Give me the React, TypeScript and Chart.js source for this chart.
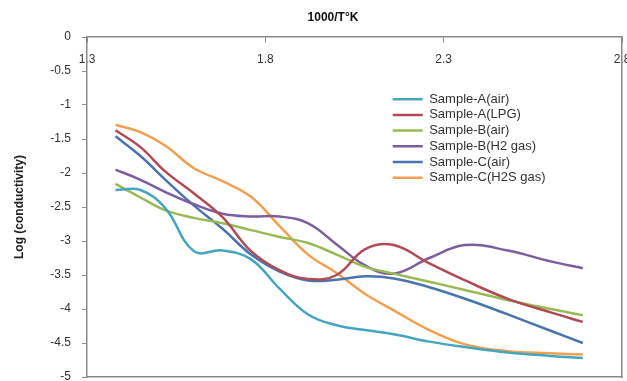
import React, { useEffect, useRef } from 'react';
import { Chart, registerables } from 'chart.js';

Chart.register(...registerables);

// Shared x positions (1000/T in K^-1)
const X_VALUES = [1.38, 1.45, 1.52, 1.6, 1.68, 1.76, 1.84, 1.92, 2.0, 2.08, 2.16, 2.26, 2.36, 2.48, 2.6, 2.69];

const SAMPLE_A_AIR = [-2.25, -2.25, -2.52, -3.15, -3.14, -3.27, -3.7, -4.08, -4.24, -4.31, -4.37, -4.48, -4.56, -4.64, -4.69, -4.72];
const SAMPLE_A_LPG = [-1.37, -1.62, -1.98, -2.3, -2.65, -3.15, -3.43, -3.56, -3.5, -3.12, -3.06, -3.33, -3.58, -3.85, -4.05, -4.19];
const SAMPLE_B_AIR = [-2.16, -2.36, -2.55, -2.66, -2.74, -2.84, -2.94, -3.03, -3.2, -3.38, -3.48, -3.6, -3.72, -3.87, -4.0, -4.09];
const SAMPLE_B_H2 = [-1.95, -2.1, -2.28, -2.46, -2.6, -2.64, -2.64, -2.74, -3.05, -3.36, -3.48, -3.25, -3.06, -3.14, -3.3, -3.4];
const SAMPLE_C_AIR = [-1.46, -1.75, -2.1, -2.48, -2.82, -3.2, -3.45, -3.58, -3.57, -3.52, -3.55, -3.68, -3.85, -4.08, -4.32, -4.5];
const SAMPLE_C_H2S = [-1.29, -1.4, -1.6, -1.93, -2.12, -2.35, -2.78, -3.2, -3.47, -3.78, -4.02, -4.31, -4.52, -4.62, -4.65, -4.67];

const SERIES_NAMES = ['Sample-A(air)', 'Sample-A(LPG)', 'Sample-B(air)', 'Sample-B(H2 gas)', 'Sample-C(air)', 'Sample-C(H2S gas)'];
const SERIES_COLORS = ['#45A5BF', '#B04A55', '#98B954', '#7B5E9E', '#4A74AE', '#F0A050'];

const X_TICKS = [1.3, 1.8, 2.3, 2.8];
const X_TITLE = '1000/T°K';
const Y_TITLE = 'Log (conductivity)';

const AXIS_COLOR = '#8a8a8a';
const FONT = '"Liberation Sans", Arial, sans-serif';

export default function App() {
  const canvasRef = useRef<HTMLCanvasElement>(null);

  useEffect(() => {
    const series = [SAMPLE_A_AIR, SAMPLE_A_LPG, SAMPLE_B_AIR, SAMPLE_B_H2, SAMPLE_C_AIR, SAMPLE_C_H2S];

    const legendPlace = {
      id: 'legendPlace',
      beforeDraw(chart: any) {
        const lg = chart.legend;
        if (!lg) return;
        const w = lg.width;
        const h = lg.height;
        lg.left = chart.chartArea.left + 303;
        lg.top = chart.chartArea.top + 53;
        lg.right = lg.left + w;
        lg.bottom = lg.top + h;
      },
    };

    const chart = new Chart(canvasRef.current!, {
      type: 'line',
      data: {
        datasets: series.map((vals, i) => ({
          label: SERIES_NAMES[i],
          data: vals.map((y, j) => ({ x: X_VALUES[j], y })),
          borderColor: SERIES_COLORS[i],
          backgroundColor: SERIES_COLORS[i],
          borderWidth: 2.5,
          pointRadius: 0,
          pointHoverRadius: 0,
          tension: 0.4,
          fill: false,
        })),
      },
      options: {
        responsive: false,
        animation: false,
        devicePixelRatio: 1,
        layout: { padding: { left: 44, right: 5, top: 0, bottom: 4 }, autoPadding: false },
        plugins: {
          title: {
            display: true,
            text: X_TITLE,
            color: '#111',
            font: { family: FONT, size: 12, weight: 'bold' },
            padding: { top: 10.8, bottom: 11.8 },
          },
          legend: {
            position: 'chartArea',
            align: 'start',
            labels: {
              usePointStyle: true,
              pointStyle: 'line',
              pointStyleWidth: 30,
              color: '#333',
              font: { family: FONT, size: 13 },
              padding: 2.7,
            },
          },
          tooltip: { enabled: false },
        },
        scales: {
          x: {
            type: 'linear',
            position: { y: 0 },
            min: 1.3,
            max: 2.8,
            afterBuildTicks: (s: any) => {
              s.ticks = X_TICKS.map((v) => ({ value: v }));
            },
            afterFit: (s: any) => {
              s.paddingLeft = 0;
              s.paddingRight = 0;
            },
            ticks: {
              autoSkip: false,
              maxRotation: 0,
              color: '#333',
              font: { family: FONT, size: 12 },
              padding: 10,
              callback: (v: any) => String(v),
            },
            grid: { display: true, drawOnChartArea: false, drawTicks: true, tickLength: 5, color: AXIS_COLOR },
            border: { display: true, color: AXIS_COLOR, width: 1.5 },
          },
          y: {
            type: 'linear',
            position: 'left',
            min: -5,
            max: 0,
            afterFit: (s: any) => {
              s.width = 43;
              s.paddingTop = 0;
              s.paddingBottom = 0;
            },
            ticks: {
              stepSize: 0.5,
              color: '#333',
              font: { family: FONT, size: 12 },
              padding: 11,
              callback: (v: any) => String(v),
            },
            grid: { display: true, drawOnChartArea: false, drawTicks: true, tickLength: 5, color: AXIS_COLOR },
            border: { display: true, color: AXIS_COLOR, width: 1.5 },
            title: {
              display: true,
              text: Y_TITLE,
              color: '#222',
              font: { family: FONT, size: 12, weight: 'bold' },
              padding: { top: -31.2, bottom: 0 },
            },
          },
          yRight: {
            type: 'linear',
            position: 'right',
            display: true,
            afterFit: (s: any) => {
              s.width = 0;
            },
            ticks: { display: false },
            grid: { display: false },
            border: { display: true, color: AXIS_COLOR, width: 1.5 },
          },
          xBottom: {
            type: 'linear',
            position: 'bottom',
            display: true,
            afterFit: (s: any) => {
              s.height = 0;
            },
            ticks: { display: false },
            grid: { display: false },
            border: { display: true, color: AXIS_COLOR, width: 1.5 },
          },
        },
      } as any,
      plugins: [legendPlace],
    });

    return () => chart.destroy();
  }, []);

  return (
    <div style={{ position: 'fixed', left: 0, top: 0, width: 627, height: 381, background: '#fff' }}>
      <canvas ref={canvasRef} width={627} height={381} style={{ display: 'block' }} />
    </div>
  );
}
